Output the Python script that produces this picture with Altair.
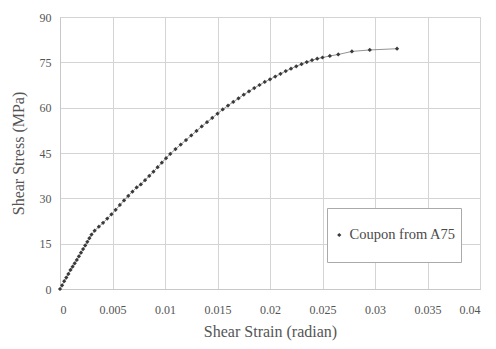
import altair as alt
import pandas as pd

strain = [0, 0.0002, 0.0004, 0.0006, 0.0008, 0.0010, 0.0012, 0.0014, 0.0016, 0.0018,
          0.0020, 0.0022, 0.0024, 0.0026, 0.0028, 0.0030, 0.0033, 0.0037, 0.0041, 0.0045,
          0.0049, 0.0053, 0.0057, 0.0061, 0.0065, 0.0069, 0.0073, 0.0077, 0.0081, 0.0085,
          0.0089, 0.0093, 0.0097, 0.0101, 0.0105, 0.0110, 0.0115, 0.0120, 0.0125, 0.0130,
          0.0135, 0.0140, 0.0145, 0.0150, 0.0155, 0.0160, 0.0165, 0.0170, 0.0175, 0.0180,
          0.0185, 0.0190, 0.0195, 0.0200, 0.0205, 0.0210, 0.0215, 0.0220, 0.0225, 0.0230,
          0.0235, 0.0240, 0.0245, 0.0250, 0.0257, 0.0265, 0.0278, 0.0295, 0.0321]
stress = [0, 1.2, 2.6, 3.8, 5.0, 6.3, 7.4, 8.5, 9.6, 10.8,
          12.0, 13.2, 14.4, 15.6, 16.8, 18.0, 19.3, 20.6, 21.9, 23.3,
          24.7, 26.2, 27.8, 29.3, 30.8, 32.2, 33.6, 34.6, 36.0, 37.4,
          38.8, 40.3, 41.8, 43.3, 44.7, 46.3, 47.8, 49.3, 50.8, 52.3,
          53.8, 55.2, 56.6, 58.0, 59.4, 60.7, 61.9, 63.1, 64.3, 65.4,
          66.5, 67.5, 68.5, 69.4, 70.3, 71.2, 72.1, 72.9, 73.7, 74.4,
          75.1, 75.7, 76.2, 76.6, 77.1, 77.6, 78.6, 79.1, 79.5]
series = "Coupon from A75"

x_ticks = [0, 0.005, 0.01, 0.015, 0.02, 0.025, 0.03, 0.035, 0.04]
y_ticks = [0, 15, 30, 45, 60, 75, 90]

df = pd.DataFrame({"strain": strain, "stress": stress, "series": [series] * len(strain)})

FONT = "Liberation Serif"

x = alt.X("strain:Q", scale=alt.Scale(domain=[0, 0.04], nice=False),
          axis=alt.Axis(values=x_ticks, format="~g", title="Shear Strain (radian)",
                        labelPadding=15, titlePadding=8, ticks=False))
y = alt.Y("stress:Q", scale=alt.Scale(domain=[0, 90], nice=False),
          axis=alt.Axis(values=y_ticks, title="Shear Stress (MPa)",
                        labelPadding=9, titlePadding=13, ticks=False))

line = alt.Chart(df).mark_line(color="#777777", strokeWidth=0.8).encode(x=x, y=y)
pts = alt.Chart(df).mark_point(shape="diamond", filled=True, size=18, opacity=1).encode(
    x=x, y=y,
    color=alt.Color("series:N", scale=alt.Scale(range=["#3a3a3a"]),
                    legend=alt.Legend(title=None, orient="none", legendX=267, legendY=191,
                                      padding=5, clipHeight=44, symbolSize=18,
                                      symbolType="diamond", labelFontSize=14.5,
                                      labelFont=FONT, labelColor="#4a4a4a",
                                      strokeColor="#aaaaaa", fillColor="white",
                                      labelOffset=3, symbolOffset=0)),
)

chart = (line + pts).properties(
    width=420, height=272,
    background="white",
    autosize=alt.AutoSizeParams(type="none"),
    padding={"left": 60, "top": 17, "right": 16, "bottom": 60},
).configure_view(stroke="#cccccc").configure_axis(
    labelFont=FONT, titleFont=FONT, labelFontSize=12, titleFontSize=16,
    labelColor="#555555", titleColor="#555555", titleFontWeight="normal",
    gridColor="#d4d4d4", domainColor="#c8c8c8",
)

chart.save("out.html", embed_options={"renderer": "svg", "actions": False})
